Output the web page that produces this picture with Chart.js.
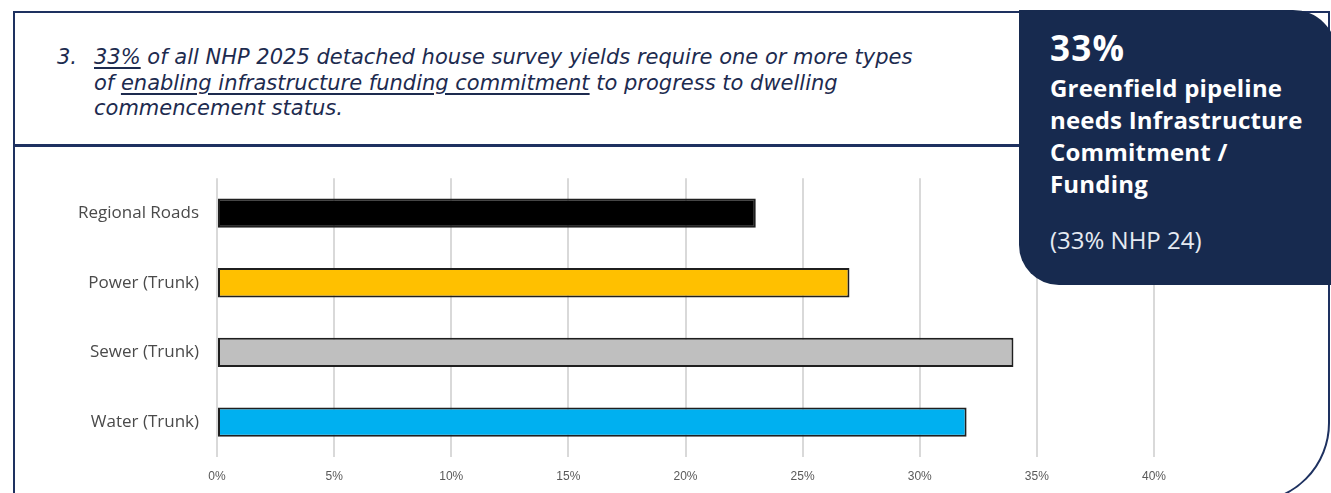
<!DOCTYPE html>
<html>
<head>
<meta charset="utf-8">
<script src="https://cdn.jsdelivr.net/npm/chart.js@4.4.1/dist/chart.umd.min.js"></script>
<style>
  html, body { margin: 0; padding: 0; background: #ffffff; }
  body { width: 1331px; height: 493px; position: relative; overflow: hidden; }
  .frame { position: absolute; left: 13px; top: 11px; width: 1317px; height: 492px;
    border: 2.5px solid #1e3160; border-bottom-right-radius: 80px; box-sizing: border-box; }
  .divider { position: absolute; left: 13px; top: 144px; width: 1010px; height: 2.5px; background: #1e3160; }
  .panel { position: absolute; left: 1019px; top: 10px; width: 318px; height: 275px; z-index: 5;
    background: #172a4f; border-top-right-radius: 44px; border-bottom-left-radius: 40px; }
  .title { position: absolute; font-family: "DejaVu Sans", sans-serif; font-style: italic; font-weight: 400;
    color: #1d2b4f; font-size: 21px; white-space: nowrap; line-height: 25px; }
  .title u { text-decoration-thickness: 1.5px; text-underline-offset: 3px; }
  .ptext { position: absolute; left: 1050px; color: #ffffff; font-family: "Open Sans", sans-serif; white-space: nowrap; z-index: 6; }
  #wrap { position: absolute; left: 0; top: 150px; width: 1180px; height: 343px; z-index: 1; }
</style>
</head>
<body>
<div class="frame"></div>
<div class="divider"></div>
<div class="title" style="left:57px; top:45px;">3.</div>
<div class="title" style="left:94px; top:45px;"><u>33%</u> of all NHP 2025 detached house survey yields require one or more types</div>
<div class="title" style="left:94px; top:71px;">of <u>enabling infrastructure funding commitment</u> to progress to dwelling</div>
<div class="title" style="left:94px; top:96px;">commencement status.</div>
<div id="wrap"><canvas id="c" width="1180" height="343"></canvas></div>
<div class="panel"></div>
<div class="ptext" style="top:28px; font-size:35px; font-weight:700; line-height:40px; letter-spacing:1.2px;">33%</div>
<div class="ptext" style="top:72px; font-size:24px; font-weight:700; line-height:32px; letter-spacing:0.2px;">Greenfield pipeline<br>needs Infrastructure<br>Commitment /<br>Funding</div>
<div class="ptext" style="top:224px; font-size:24px; font-weight:400; line-height:32px; color:#e6eaf2;">(33% NHP 24)</div>
<script>
const categories = ['Regional Roads', 'Power (Trunk)', 'Sewer (Trunk)', 'Water (Trunk)'];
const values = [23, 27, 34, 32];
const barColors = ['#000000', '#FFC000', '#BFBFBF', '#00B0F0'];
const xTickMin = 0, xTickMax = 40, xTickStep = 5;

new Chart(document.getElementById('c'), {
  type: 'bar',
  data: {
    labels: categories,
    datasets: [{
      data: values,
      backgroundColor: barColors,
      borderColor: '#1f1f1f',
      borderWidth: 2,
      borderSkipped: false,
      barPercentage: 0.42,
      categoryPercentage: 1.0
    }]
  },
  options: {
    indexAxis: 'y',
    responsive: false,
    devicePixelRatio: 1,
    animation: false,
    layout: { padding: { top: 7, right: 26, left: 0, bottom: 0 } },
    plugins: { legend: { display: false }, tooltip: { enabled: false } },
    scales: {
      x: {
        min: xTickMin, max: xTickMax,
        ticks: { stepSize: xTickStep, callback: v => v + '%', color: '#595959',
          font: { family: 'Liberation Sans', size: 12 }, padding: 12, maxRotation: 0 },
        grid: { color: '#d9d9d9', lineWidth: 2, drawTicks: false },
        border: { display: false },
        afterFit: s => { s.height = 36; }
      },
      y: {
        ticks: { color: '#4a4a4a', font: { family: 'Open Sans', size: 17 }, padding: 18 },
        grid: { display: false, drawTicks: false },
        border: { display: false },
        afterFit: s => { s.width = 217; }
      }
    }
  }
});
</script>
</body>
</html>
